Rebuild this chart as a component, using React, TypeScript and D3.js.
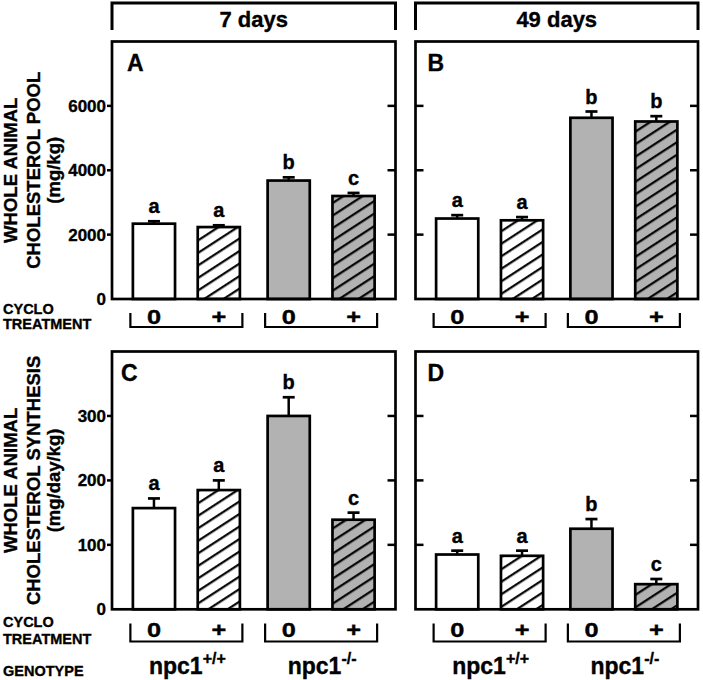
import React from "react";
import * as d3 from "d3";

const genotypes = ["npc1+/+", "npc1-/-"];
const treatments = ["0", "+"];
const periods = ["7 days", "49 days"];

const poolDay7 = [2340, 2235, 3680, 3200];
const poolDay7Err = [75, 55, 100, 95];
const poolDay49 = [2500, 2445, 5630, 5515];
const poolDay49Err = [105, 100, 195, 165];
const synthDay7 = [157, 185, 300, 139];
const synthDay7Err = [15, 15, 29, 11];
const synthDay49 = [85, 83, 125, 39];
const synthDay49Err = [6, 8, 15, 8];

const poolLetters7 = ["a", "a", "b", "c"];
const poolLetters49 = ["a", "a", "b", "b"];
const synthLetters7 = ["a", "a", "b", "c"];
const synthLetters49 = ["a", "a", "b", "c"];

const poolTicks = [0, 2000, 4000, 6000];
const synthTicks = [0, 100, 200, 300];
const poolMax = 8000;
const synthMax = 400;
const panelLetters = ["A", "B", "C", "D"];
const poolTitle = ["WHOLE ANIMAL", "CHOLESTEROL POOL", "(mg/kg)"];
const synthTitle = ["WHOLE ANIMAL", "CHOLESTEROL SYNTHESIS", "(mg/day/kg)"];

const FONT = "'Liberation Sans', Arial, Helvetica, sans-serif";
const GRAY = "#b2b2b2";
const TXT = { fontWeight: "bold" as const, fontFamily: FONT, stroke: "#000", strokeWidth: 0.35 };

const cols = [
  { x0: 112, x1: 395.5 },
  { x0: 415.5, x1: 698 },
];
const rows = [
  { top: 41.5, bottom: 299, brTop: 313, brBot: 327, lab: 324, cyc: 313.5, trt: 328.5 },
  { top: 351.5, bottom: 609.3, brTop: 623.5, brBot: 641.5, lab: 637, cyc: 626.5, trt: 644 },
];

type PanelProps = {
  col: number;
  row: number;
  values: number[];
  errs: number[];
  letters: string[];
  max: number;
  ticks: number[];
  label: string;
  labelDx: number;
};

function Panel({ col, row, values, errs, letters, max, ticks, label, labelDx }: PanelProps) {
  const { x0, x1 } = cols[col];
  const r = rows[row];
  const y = d3.scaleLinear().domain([0, max]).range([r.bottom, r.top]);
  const xg = d3.scalePoint<string>().domain(genotypes).range([0, x1 - x0]).padding(0.552);
  const xt = d3.scaleBand<string>().domain(treatments).range([-53.5, 53.5]).paddingInner(0.35).paddingOuter(0);
  const bw = xt.bandwidth();
  const showLabels = col === 0;
  const fmt = d3.format("d");

  const bars = values.map((v, i) => {
    const g = genotypes[Math.floor(i / 2)];
    const t = treatments[i % 2];
    const left = x0 + (xg(g) as number) + (xt(t) as number);
    const cx = left + bw / 2;
    const gi = Math.floor(i / 2);
    const fill = t === "+" ? (gi === 0 ? "url(#hatchWhite)" : "url(#hatchGray)") : gi === 0 ? "#fff" : GRAY;
    const yTop = y(v + errs[i]);
    return (
      <g key={i}>
        <rect x={left} y={y(v)} width={bw} height={y(0) - y(v)} fill={fill} stroke="#000" strokeWidth={2.7} />
        <line x1={cx} x2={cx} y1={y(v)} y2={yTop} stroke="#000" strokeWidth={2.5} />
        <line x1={cx - 6} x2={cx + 6} y1={yTop} y2={yTop} stroke="#000" strokeWidth={2.7} />
        <text x={cx} y={yTop - 8} textAnchor="middle" fontSize={20} {...TXT}>
          {letters[i]}
        </text>
      </g>
    );
  });

  const tickEls = ticks.map((t) => (
    <g key={t}>
      {t !== 0 && (
        <line
          x1={showLabels ? x0 - 5 : x0}
          x2={showLabels ? x0 : x0 + 8}
          y1={y(t)}
          y2={y(t)}
          stroke="#000"
          strokeWidth={2.5}
        />
      )}
      {t !== 0 && <line x1={x1 - 8} x2={x1} y1={y(t)} y2={y(t)} stroke="#000" strokeWidth={2.5} />}
      {showLabels && (
        <text x={x0 - 6} y={y(t)} dy="0.35em" textAnchor="end" fontSize={17} {...TXT}>
          {fmt(t)}
        </text>
      )}
    </g>
  ));

  const brackets = genotypes.map((g) => {
    const gx = x0 + (xg(g) as number);
    return (
      <g key={g}>
        <path
          d={`M${gx - 56},${r.brTop}V${r.brBot}H${gx + 56}V${r.brTop}`}
          fill="none"
          stroke="#000"
          strokeWidth={2.2}
        />
        {treatments.map((t) => {
          const cx = gx + (xt(t) as number) + bw / 2;
          return (
            <text
              key={t}
              x={0}
              y={0}
              transform={`translate(${cx},${r.lab}) scale(1.3,1)`}
              textAnchor="middle"
              fontSize={19.5}
              {...TXT}
            >
              {t}
            </text>
          );
        })}
        {row === 1 && (
          <text x={gx + 1} y={673.5} textAnchor="middle" fontSize={23} {...TXT}>
            npc1
            <tspan fontSize={16} dy={-9.5}>
              {g.slice(4)}
            </tspan>
          </text>
        )}
      </g>
    );
  });

  return (
    <g>
      {bars}
      <rect x={x0} y={r.top} width={x1 - x0} height={r.bottom - r.top} fill="none" stroke="#000" strokeWidth={2.7} />
      {tickEls}
      <text x={x0 + labelDx} y={r.top + 29.5} fontSize={23} {...TXT}>
        {label}
      </text>
      {brackets}
    </g>
  );
}

function YTitle({ row, lines }: { row: number; lines: string[] }) {
  const r = rows[row];
  const mid = (r.top + r.bottom) / 2;
  const bx = [17, 40, 60];
  return (
    <g>
      {lines.map((l, i) => (
        <text
          key={i}
          transform={`translate(${bx[i]},${mid}) rotate(-90)`}
          textAnchor="middle"
          fontSize={18.5}
          {...TXT}
        >
          {l}
        </text>
      ))}
    </g>
  );
}

export default function App() {
  return (
    <svg
      width={703}
      height={680}
      style={{ position: "absolute", left: 0, top: 0, background: "#fff" }}
      xmlns="http://www.w3.org/2000/svg"
    >
      <defs>
        <pattern id="hatchWhite" patternUnits="userSpaceOnUse" width={10.5} height={10.5} patternTransform="rotate(-33)">
          <rect width={10.5} height={10.5} fill="#fff" />
          <line x1={0} x2={10.5} y1={5} y2={5} stroke="#000" strokeWidth={2.2} />
        </pattern>
        <pattern id="hatchGray" patternUnits="userSpaceOnUse" width={10.5} height={10.5} patternTransform="rotate(-33)">
          <rect width={10.5} height={10.5} fill={GRAY} />
          <line x1={0} x2={10.5} y1={5} y2={5} stroke="#000" strokeWidth={2.2} />
        </pattern>
      </defs>
      <rect width={703} height={680} fill="#fff" />

      {periods.map((p, i) => {
        const { x0, x1 } = cols[i];
        return (
          <g key={p}>
            <path d={`M${x0},30V3H${x1}V30`} fill="none" stroke="#000" strokeWidth={3} />
            <text x={(x0 + x1) / 2} y={27} textAnchor="middle" fontSize={22} {...TXT}>
              {p}
            </text>
          </g>
        );
      })}

      <Panel col={0} row={0} values={poolDay7} errs={poolDay7Err} letters={poolLetters7} max={poolMax} ticks={poolTicks} label={panelLetters[0]} labelDx={15} />
      <Panel col={1} row={0} values={poolDay49} errs={poolDay49Err} letters={poolLetters49} max={poolMax} ticks={poolTicks} label={panelLetters[1]} labelDx={12} />
      <Panel col={0} row={1} values={synthDay7} errs={synthDay7Err} letters={synthLetters7} max={synthMax} ticks={synthTicks} label={panelLetters[2]} labelDx={9} />
      <Panel col={1} row={1} values={synthDay49} errs={synthDay49Err} letters={synthLetters49} max={synthMax} ticks={synthTicks} label={panelLetters[3]} labelDx={12} />

      <YTitle row={0} lines={poolTitle} />
      <YTitle row={1} lines={synthTitle} />

      {rows.map((r, i) => (
        <g key={i}>
          <text x={3} y={r.cyc} fontSize={14.5} {...TXT}>
            CYCLO
          </text>
          <text x={3} y={r.trt} fontSize={14.5} {...TXT}>
            TREATMENT
          </text>
        </g>
      ))}
      <text x={3} y={676} fontSize={14.5} {...TXT}>
        GENOTYPE
      </text>
    </svg>
  );
}
